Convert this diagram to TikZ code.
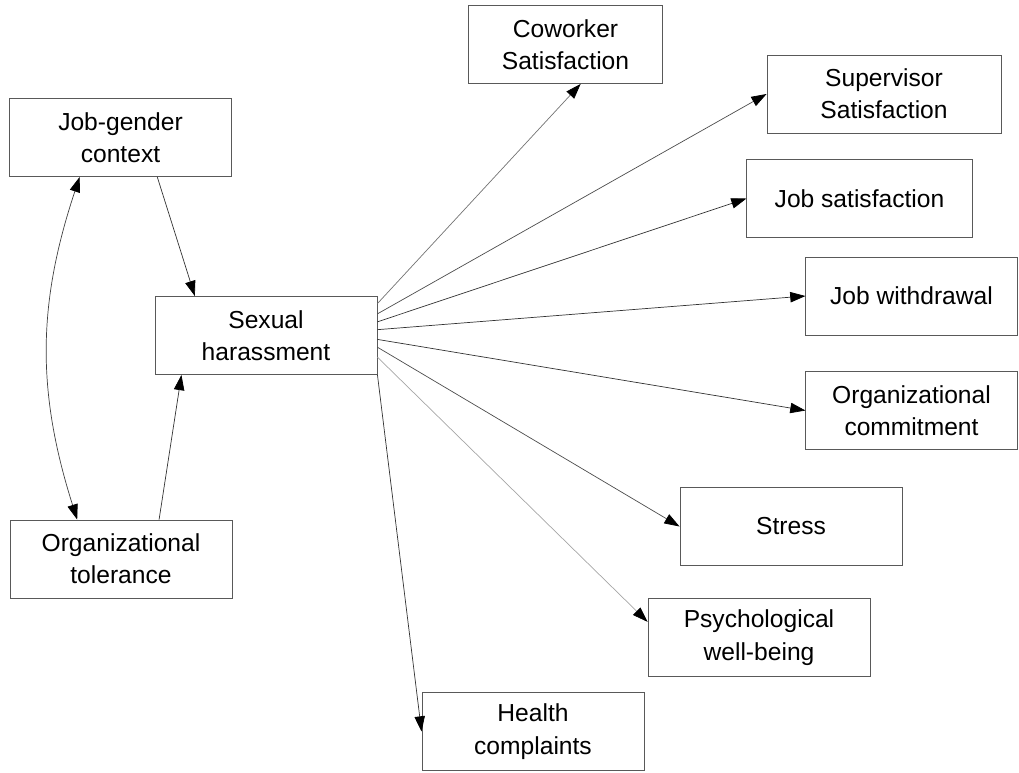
\documentclass[tikz,border=0pt]{standalone}
\usepackage{fontspec}
\setmainfont{Liberation Sans}
\usepackage{tikz}
\usetikzlibrary{shapes,arrows.meta}

\begin{document}
\begin{tikzpicture}
		[
		x = 0.025cm, y = -0.025cm,
		box/.style = {draw = black!65, line width = 0.6pt, align = center, minimum width = 5.55cm, minimum height = 1.95cm, inner sep = 0pt, font = \fontsize{17.5}{23}\selectfont},
		tip/.style = {Triangle[length = 0.38cm, width = 0.26cm, color = black]},
		effect/.style = {-{Triangle[length = 0.38cm, width = 0.26cm, color = black]}, line width = 0.5pt, draw = #1},
		effect/.default = black!80,
		both/.style = {{Triangle[length = 0.38cm, width = 0.26cm, color = black]}-{Triangle[length = 0.38cm, width = 0.26cm, color = black]}, line width = 0.5pt, draw = black!75}
		]
		\useasboundingbox (0,0) rectangle (1019,772);
		
		\node [box] (jobgen) at (120.5,137.5) {Job-gender\\context};
		\node [box] (orgtol) at (121,559) {Organizational\\tolerance};
		\node [box] (harass) at (266,335.5) {Sexual\\harassment};
		
		\node [box, minimum width = 4.83cm] (cowork) at (565.5,44.5) {Coworker\\Satisfaction};
		\node [box, minimum width = 5.85cm] (superv) at (884,94) {Supervisor\\Satisfaction};
		\node [box, minimum width = 5.63cm] (jobsat) at (859.5,198.5) {Job satisfaction};
		\node [box, minimum width = 5.28cm] (withdr) at (911.5,296) {Job withdrawal};
		\node [box, minimum width = 5.28cm] (orgcom) at (911.5,410.5) {Organizational\\commitment};
		\node [box] (stress) at (791,526.5) {Stress};
		\node [box] (psych) at (759,637.5) {Psychological\\well-being};
		\node [box] (health) at (533,731.5) {Health\\complaints};
		
		\draw [both] (jobgen.224) to [bend right = 18] (orgtol.138);
		\draw [effect] (jobgen.-47) -- (harass.151);
		\draw [effect] (orgtol.46) -- (harass.205);
		
		\draw [effect = black!55] (harass.16) -- (cowork.-69);
		\draw [effect = black!70] (harass.11.5) -- (superv.west);
		\draw [effect] (harass.7) -- (jobsat.west);
		\draw [effect] (harass.3) -- (withdr.west);
		\draw [effect] (harass.-2) -- (orgcom.west);
		\draw [effect = black!70] (harass.-6.5) -- (stress.west);
		\draw [effect = black!35] (harass.-11.5) -- (psych.172);
		\draw [effect] (harass.south east) -- (health.west);
		
		\end{tikzpicture}
\end{document}
